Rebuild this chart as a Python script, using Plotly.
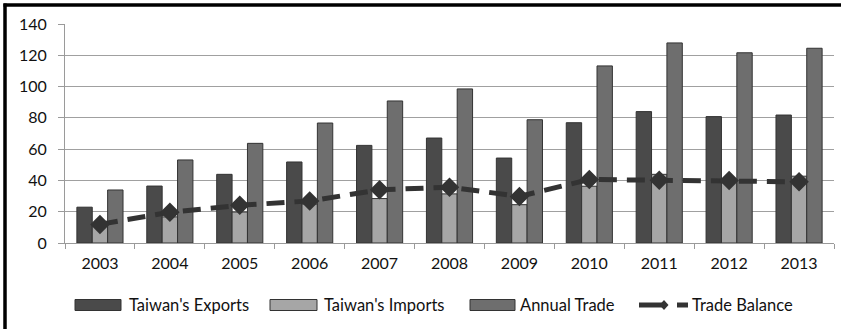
import plotly.graph_objects as go

years = ["2003", "2004", "2005", "2006", "2007", "2008", "2009", "2010", "2011", "2012", "2013"]
exports = [22.9, 36.4, 43.9, 51.8, 62.4, 67.1, 54.3, 76.9, 84.0, 80.8, 81.8]
imports = [11.0, 16.7, 19.8, 24.9, 28.4, 31.4, 24.5, 36.3, 43.9, 40.8, 42.7]
annual_trade = [33.9, 53.1, 63.7, 76.7, 90.8, 98.5, 78.8, 113.2, 127.9, 121.6, 124.5]
trade_balance = [11.9, 19.7, 24.1, 26.9, 34.0, 35.7, 29.8, 40.6, 40.1, 40.0, 39.1]

series_names = ["Taiwan's Exports", "Taiwan's Imports", "Annual Trade", "Trade Balance"]
bar_colors = ["#4a4a4a", "#a6a6a6", "#6e6e6e"]
LINE_COLOR = "#333333"

FONT = "Lato, sans-serif"
W, H = 841, 329
L, R, T, B = 65, 7, 24, 86
PW, PH = W - L - R, H - T - B


def px(x):
    return (x - L) / PW


def py(y):
    return (H - B - y) / PH


edge = dict(color="#333333", width=1)

fig = go.Figure()
for name, vals, col in zip(series_names[:3], [exports, imports, annual_trade], bar_colors):
    fig.add_trace(go.Bar(x=years, y=vals, name=name,
                         marker=dict(color=col, line=edge)))
fig.add_trace(go.Scatter(x=years, y=trade_balance, name=series_names[3],
                         mode="lines+markers",
                         line=dict(color=LINE_COLOR, width=5, dash="18px,10px"),
                         marker=dict(symbol="diamond", size=15, color=LINE_COLOR)))

# Hand-built legend row below the axis
shapes = []
annotations = []
LEG_Y = 305
swatches = [(75, 121, 127), (270, 317, 322), (470, 515, 518)]
for (x0, x1, tx), name, col in zip(swatches, series_names[:3], bar_colors):
    shapes.append(dict(type="rect", xref="paper", yref="paper",
                       x0=px(x0), x1=px(x1), y0=py(LEG_Y + 5.5), y1=py(LEG_Y - 5.5),
                       fillcolor=col, line=dict(color="#333333", width=1)))
    annotations.append(dict(xref="paper", yref="paper", x=px(tx), y=py(LEG_Y),
                            xanchor="left", yanchor="middle", showarrow=False,
                            text=name, font=dict(family=FONT, size=16.5, color="#111111")))
# line-with-diamond key for the balance series
shapes.append(dict(type="line", xref="paper", yref="paper",
                   x0=px(639), x1=px(662), y0=py(LEG_Y), y1=py(LEG_Y),
                   line=dict(color=LINE_COLOR, width=5)))
shapes.append(dict(type="line", xref="paper", yref="paper",
                   x0=px(677), x1=px(688), y0=py(LEG_Y), y1=py(LEG_Y),
                   line=dict(color=LINE_COLOR, width=5)))
dx, dy = 4.5, 5
cx = 664
shapes.append(dict(type="path", xref="paper", yref="paper",
                   path=(f"M {px(cx - dx)},{py(LEG_Y)} L {px(cx)},{py(LEG_Y - dy)} "
                         f"L {px(cx + dx)},{py(LEG_Y)} L {px(cx)},{py(LEG_Y + dy)} Z"),
                   fillcolor=LINE_COLOR, line=dict(color=LINE_COLOR, width=0)))
annotations.append(dict(xref="paper", yref="paper", x=px(690), y=py(LEG_Y),
                        xanchor="left", yanchor="middle", showarrow=False,
                        text=series_names[3], font=dict(family=FONT, size=16.5, color="#111111")))

# black frame along the left and top edges
shapes.append(dict(type="line", xref="paper", yref="paper",
                   x0=px(5), x1=px(5), y0=py(H + 5), y1=py(3.5),
                   line=dict(color="black", width=3.5)))
shapes.append(dict(type="line", xref="paper", yref="paper",
                   x0=px(3.5), x1=px(W + 5), y0=py(5), y1=py(5),
                   line=dict(color="black", width=3.5)))

fig.update_layout(
    width=W, height=H,
    margin=dict(l=L, r=R, t=T, b=B),
    paper_bgcolor="white", plot_bgcolor="white",
    barmode="group", bargap=0.34, bargroupgap=0,
    font=dict(family=FONT, size=16, color="#111111"),
    showlegend=False,
    xaxis=dict(range=[-0.5, len(years) - 0.5], autorange=False,
               showline=True, linecolor="#9a9a9a", linewidth=1,
               ticks="outside", ticklen=5, tickcolor="#9a9a9a",
               tickson="boundaries", showgrid=False, ticklabelstandoff=6,
               tickfont=dict(family=FONT, size=16, color="#111111")),
    yaxis=dict(range=[0, 140], dtick=20, showline=True, linecolor="#9a9a9a",
               linewidth=1, showgrid=True, gridcolor="#a0a0a0", gridwidth=1,
               ticks="outside", ticklen=6, tickcolor="#9a9a9a",
               zeroline=False, ticklabelstandoff=8,
               tickfont=dict(family=FONT, size=16, color="#111111")),
    shapes=shapes,
    annotations=annotations,
)

fig.write_html("out.html")
